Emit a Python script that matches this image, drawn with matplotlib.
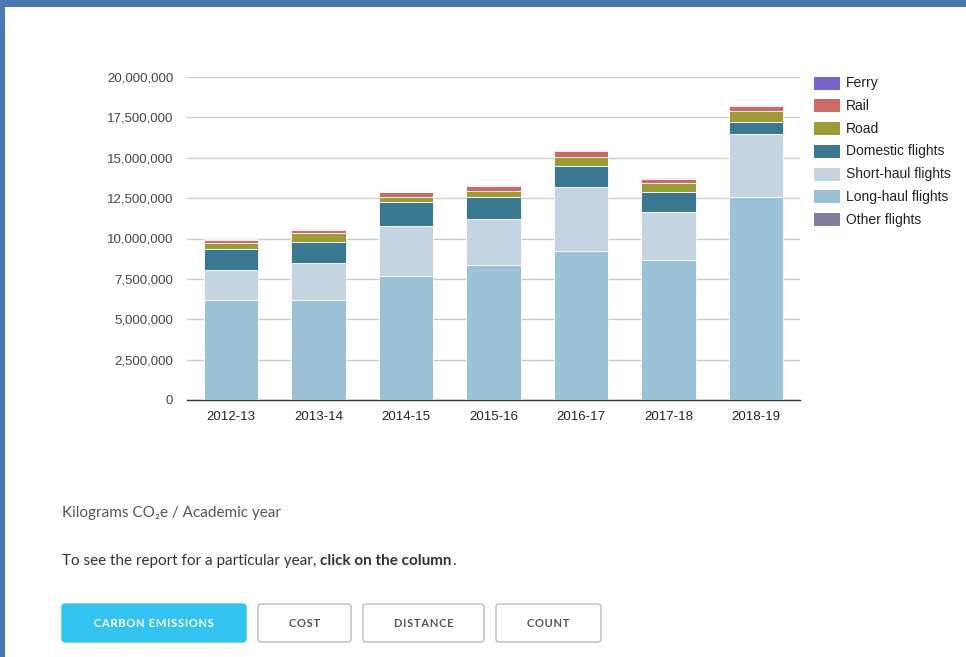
import matplotlib
matplotlib.use("Agg")
import matplotlib.pyplot as plt
import numpy as np
from matplotlib.patches import Rectangle, FancyBboxPatch
from matplotlib.ticker import StrMethodFormatter

years = ["2012-13", "2013-14", "2014-15", "2015-16", "2016-17", "2017-18", "2018-19"]
other_flights = [0, 0, 0, 0, 0, 0, 0]
long_haul = [6200000, 6220000, 7680000, 8330000, 9240000, 8640000, 12570000]
short_haul = [1880000, 2290000, 3090000, 2880000, 3930000, 2980000, 3880000]
domestic = [1270000, 1300000, 1470000, 1390000, 1350000, 1230000, 790000]
road = [370000, 530000, 360000, 370000, 550000, 560000, 640000]
rail = [190000, 190000, 250000, 310000, 330000, 270000, 310000]
ferry = [60000, 60000, 60000, 30000, 50000, 60000, 50000]

legend_names = ["Ferry", "Rail", "Road", "Domestic flights", "Short-haul flights",
                "Long-haul flights", "Other flights"]
yticks = [0, 2500000, 5000000, 7500000, 10000000, 12500000, 15000000, 17500000, 20000000]

colors = {
    "Ferry": "#7b62cb",
    "Rail": "#cc6a65",
    "Road": "#9c9b36",
    "Domestic flights": "#3a7891",
    "Short-haul flights": "#c4d4e0",
    "Long-haul flights": "#9bc1d6",
    "Other flights": "#7f7f9d",
}

W, H = 966, 657
fig = plt.figure(figsize=(W / 100, H / 100), dpi=100)
fig.patch.set_facecolor("white")

def fx(px):
    return px / W

def fy(py):
    return 1 - py / H

# blue frame at top and left
fig.patches.append(Rectangle((0, fy(7)), 1, 7 / H, transform=fig.transFigure,
                             facecolor="#4a77b4", edgecolor="none", zorder=0))
fig.patches.append(Rectangle((0, 0), 5 / W, 1, transform=fig.transFigure,
                             facecolor="#4a77b4", edgecolor="none", zorder=0))

ax = fig.add_axes([fx(187), fy(400), fx(800) - fx(187), fy(77) - fy(400)])
x = np.arange(len(years))
bw = 0.62
stack = [("Other flights", other_flights), ("Long-haul flights", long_haul),
         ("Short-haul flights", short_haul), ("Domestic flights", domestic),
         ("Road", road), ("Rail", rail), ("Ferry", ferry)]
bottom = np.zeros(len(years))
for name, vals in stack:
    vals = np.array(vals, dtype=float)
    ax.bar(x, vals, bw, bottom=bottom, color=colors[name], edgecolor="white",
           linewidth=0.6, zorder=3)
    bottom += vals

ax.set_xlim(-0.5, len(years) - 0.5)
ax.set_ylim(0, 20000000)
ax.set_yticks(yticks)
ax.yaxis.set_major_formatter(StrMethodFormatter("{x:,.0f}"))
ax.set_xticks(x)
ax.set_xticklabels(years)
for s in ["top", "right", "left"]:
    ax.spines[s].set_visible(False)
ax.spines["bottom"].set_color("#333333")
ax.spines["bottom"].set_linewidth(1)
ax.grid(axis="y", color="#cccccc", linewidth=1, zorder=0)
ax.tick_params(axis="y", length=0, pad=10, labelsize=9.5, labelcolor="#444444")
ax.tick_params(axis="x", length=0, pad=8, labelsize=9.5, labelcolor="#222222")
for lbl in ax.get_yticklabels() + ax.get_xticklabels():
    lbl.set_fontfamily("Liberation Sans")

# legend
for i, name in enumerate(legend_names):
    yc = 83 + i * 22.8
    fig.patches.append(Rectangle((fx(814), fy(yc + 6.5)), 26 / W, 13 / H,
                                 transform=fig.transFigure, facecolor=colors[name],
                                 edgecolor="none"))
    fig.text(fx(846), fy(yc), name, fontsize=10, family="Liberation Sans",
             color="#222222", va="center", ha="left")

# captions
fig.text(fx(62), fy(513), "Kilograms CO\u2082e / Academic year", fontsize=11,
         family=["Lato", "DejaVu Sans"], color="#555555", va="center", ha="left")
t1 = fig.text(fx(62), fy(561), "To see the report for a particular year, ", fontsize=11,
              family="Lato", color="#333333", va="center", ha="left")
fig.canvas.draw()
bb = t1.get_window_extent()
t2 = fig.text(bb.x1 / W, fy(561), "click on the column", fontsize=11,
              family="Lato", weight="bold", color="#333333", va="center", ha="left")
fig.canvas.draw()
bb2 = t2.get_window_extent()
fig.text(bb2.x1 / W, fy(561), ".", fontsize=11, family="Lato",
         color="#333333", va="center", ha="left")

# buttons
buttons = [("CARBON EMISSIONS", 62, 246, True), ("COST", 258, 351, False),
           ("DISTANCE", 363, 484, False), ("COUNT", 496, 601, False)]
for label, x0, x1, active in buttons:
    y0, y1 = 604, 642
    p = FancyBboxPatch((fx(x0), fy(y1)), fx(x1) - fx(x0), fy(y0) - fy(y1),
                       boxstyle="round,pad=0,rounding_size=0.004",
                       transform=fig.transFigure,
                       facecolor="#33c3f0" if active else "white",
                       edgecolor="#33c3f0" if active else "#bbbbbb", linewidth=1)
    fig.patches.append(p)
    spaced = "\u200a".join(label)
    fig.text(fx((x0 + x1) / 2), fy(623.5), spaced,
             fontsize=8, family=["Lato", "DejaVu Sans"], weight="bold",
             color="white" if active else "#555555", va="center", ha="center")

fig.savefig("out.png", dpi=100, facecolor="white")
